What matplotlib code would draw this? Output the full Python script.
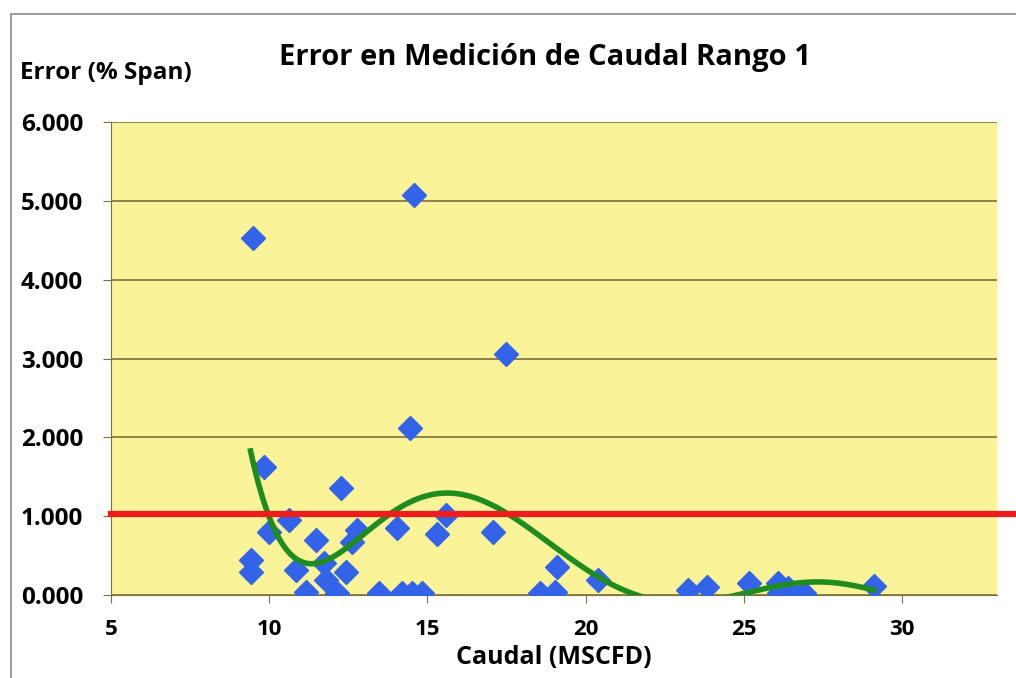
import numpy as np
import matplotlib
matplotlib.use("Agg")
import matplotlib.pyplot as plt
from matplotlib.patches import Rectangle

# scatter data
caudal = [9.50, 14.59, 14.46, 17.48, 9.83, 12.27, 10.62, 9.98, 9.41, 9.41,
          11.48, 10.84, 11.73, 11.79, 11.16, 12.14, 12.43, 12.78, 12.62, 13.48,
          14.05, 14.20, 14.52, 14.84, 15.29, 15.60, 17.06, 18.56, 19.03, 19.10,
          20.40, 23.22, 23.85, 25.16, 26.08, 26.10, 26.40, 26.90, 29.10]
error = [4.53, 5.08, 2.12, 3.06, 1.62, 1.36, 0.95, 0.80, 0.44, 0.29,
         0.70, 0.32, 0.40, 0.19, 0.04, 0.02, 0.29, 0.82, 0.67, 0.03,
         0.85, 0.02, 0.02, 0.02, 0.78, 1.01, 0.80, 0.03, 0.04, 0.36,
         0.19, 0.06, 0.10, 0.15, 0.15, 0.02, 0.09, 0.02, 0.11]
limite = 1.03
y_ticks = [0, 1, 2, 3, 4, 5, 6]
x_ticks = [5, 10, 15, 20, 25, 30]

plt.rcParams['font.family'] = ['Open Sans', 'DejaVu Sans']
plt.rcParams['font.weight'] = 'bold'

fig = plt.figure(figsize=(10.16, 6.78), dpi=100)
ax = fig.add_axes([111 / 1016, 83 / 678, (997 - 111) / 1016, 473 / 678])
ax.set_facecolor('#FAF398')

# chart area border
fig.patches.append(Rectangle((11 / 1016, -0.1), 1.2, (678 - 14) / 678 + 0.1,
                             transform=fig.transFigure, fill=False,
                             edgecolor='#8a8a8a', linewidth=1.2))

ax.set_xlim(5, 33)
ax.set_ylim(0, 6)
ax.set_yticks(y_ticks)
ax.set_yticklabels(['%.3f' % v for v in y_ticks])
ax.set_xticks(x_ticks)
ax.grid(axis='y', color='#7d7040', linewidth=1.2)
ax.set_axisbelow(True)

for s in ['top', 'right']:
    ax.spines[s].set_visible(False)
ax.spines['left'].set_color('#7d7040')
ax.spines['bottom'].set_color('#7d7040')
ax.tick_params(axis='y', length=6, color='#7d7040', labelsize=17.5, pad=14)
ax.tick_params(axis='x', length=6, color='#7d7040', labelsize=16, pad=11)

ax.plot(caudal, error, linestyle='none', marker='D', markersize=12,
        color='#3363E8', zorder=3)

# polynomial trendline (order 6) like the Excel one
coef = np.polyfit(caudal, error, 6)
xs = np.linspace(min(caudal), max(caudal), 300)
ax.plot(xs, np.polyval(coef, xs), color='#1E8C1E', linewidth=4, zorder=4)

ax.axhline(limite, xmin=0, xmax=1.03, color='#EE1C1C', linewidth=4.5,
           clip_on=False, zorder=5)

fig.text(545 / 1016, 1 - 58 / 678, 'Error en Medición de Caudal Rango 1',
         ha='center', va='center', fontsize=21, fontweight='bold')
fig.text(20 / 1016, 1 - 73 / 678, 'Error (% Span)', ha='left', va='center',
         fontsize=17.5, fontweight='bold')
ax.set_xlabel('Caudal (MSCFD)', fontsize=18, fontweight='bold', labelpad=4)

fig.savefig('out.png', dpi=100)
